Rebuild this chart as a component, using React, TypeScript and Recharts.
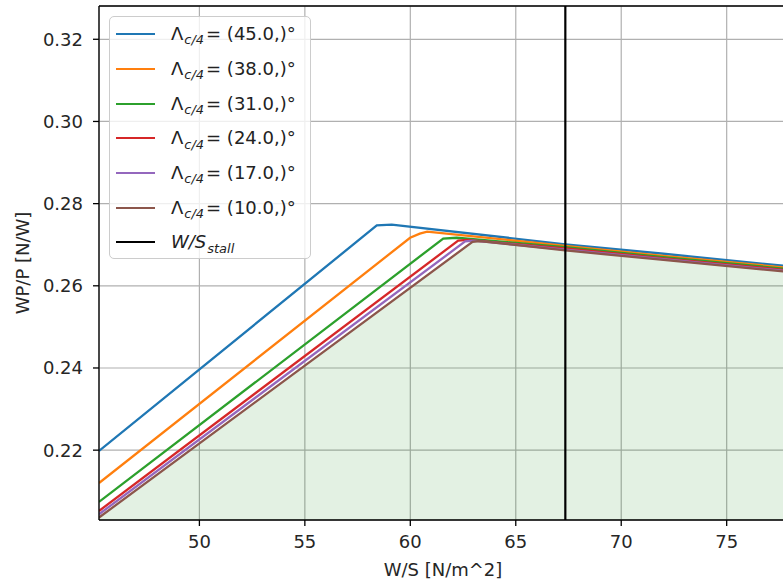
import React from 'react';
import {
  ComposedChart,
  Line,
  Area,
  XAxis,
  YAxis,
  CartesianGrid,
  ReferenceLine,
  Legend,
  Label,
} from 'recharts';

// ---- data ----
const sweepLabels = ['45.0', '38.0', '31.0', '24.0', '17.0', '10.0'];

const ws45 = [45.24, 58.41, 59.12, 67.35, 72.0, 77.86];
const wp45 = [0.2198, 0.2747, 0.2749, 0.2701, 0.2678, 0.2648];

const ws38 = [45.24, 59.99, 60.45, 60.8, 67.35, 72.0, 77.86];
const wp38 = [0.212, 0.2717, 0.2727, 0.2732, 0.2697, 0.2673, 0.2644];

const ws31 = [45.24, 61.56, 62.2, 67.35, 72.0, 77.86];
const wp31 = [0.2074, 0.2715, 0.2717, 0.2694, 0.267, 0.2641];

const ws24 = [45.24, 62.27, 62.7, 67.35, 72.0, 77.86];
const wp24 = [0.2052, 0.271, 0.2712, 0.2691, 0.2667, 0.2638];

const ws17 = [45.24, 62.6, 63.0, 67.35, 72.0, 77.86];
const wp17 = [0.2044, 0.2708, 0.271, 0.2688, 0.2665, 0.2636];

const ws10 = [45.24, 62.95, 63.3, 67.35, 72.0, 77.86];
const wp10 = [0.2036, 0.2707, 0.2709, 0.2686, 0.2663, 0.2634];

const wsStall = 67.35;

const wsTicks = [50, 55, 60, 65, 70, 75];
const wpTicks = [0.22, 0.24, 0.26, 0.28, 0.3, 0.32];

const X_DOMAIN: [number, number] = [45.24, 77.86];
const Y_DOMAIN: [number, number] = [0.203, 0.3281];

// ---- styles ----
const COLORS = ['#1f77b4', '#ff7f0e', '#2ca02c', '#d62728', '#9467bd', '#8c564b'];
const FONT = '"DejaVu Sans", sans-serif';

const toPoints = (xs: number[], ys: number[]) => xs.map((x, i) => ({ ws: x, wp: ys[i] }));

const series = [
  toPoints(ws45, wp45),
  toPoints(ws38, wp38),
  toPoints(ws31, wp31),
  toPoints(ws24, wp24),
  toPoints(ws17, wp17),
  toPoints(ws10, wp10),
];

const LegendBox = () => {
  const rowH = 34.7;
  const row = (key: string, color: string, label: React.ReactNode) => (
    <div key={key} style={{ display: 'flex', alignItems: 'center', height: rowH, paddingLeft: 6 }}>
      <svg width={39} height={6} style={{ display: 'block' }}>
        <line x1={0} y1={3} x2={39} y2={3} stroke={color} strokeWidth={2.2} />
      </svg>
      <span style={{ marginLeft: 16, whiteSpace: 'nowrap', lineHeight: 1 }}>{label}</span>
    </div>
  );
  return (
    <div
      style={{
        width: 202,
        height: 243,
        boxSizing: 'border-box',
        border: '1.3px solid #cccccc',
        borderRadius: 5,
        background: 'rgba(255,255,255,0.8)',
        fontFamily: FONT,
        fontSize: 18,
        color: '#222',
      }}
    >
      {sweepLabels.map((s, i) =>
        row(
          s,
          COLORS[i],
          <>
            Λ
            <span
              style={{
                fontSize: '0.72em',
                position: 'relative',
                top: '0.32em',
                fontStyle: 'italic',
                marginLeft: 1,
                marginRight: 2,
              }}
            >
              c/4
            </span>
            = ({s},)°
          </>
        )
      )}
      {row(
        'stall',
        '#000',
        <span style={{ fontStyle: 'italic' }}>
          W/S
          <span style={{ fontSize: '0.72em', position: 'relative', top: '0.32em', marginLeft: 1 }}>stall</span>
        </span>
      )}
    </div>
  );
};

export default function App() {
  return (
    <div
      style={{
        position: 'fixed',
        left: 0,
        top: 0,
        width: 783,
        height: 585,
        overflow: 'hidden',
        background: '#fff',
      }}
    >
      <ComposedChart width={800} height={585} margin={{ top: 6, right: 13, bottom: 0, left: 0 }}>
        <CartesianGrid stroke="#b0b0b0" strokeWidth={1.2} />
        <Area
          data={series[5]}
          dataKey="wp"
          type="linear"
          baseValue={Y_DOMAIN[0]}
          stroke="none"
          fill="#008000"
          fillOpacity={0.11}
          isAnimationActive={false}
          legendType="none"
        />
        {series.map((d, i) => (
          <Line
            key={sweepLabels[i]}
            data={d}
            dataKey="wp"
            type="linear"
            stroke={COLORS[i]}
            strokeWidth={2.3}
            dot={false}
            activeDot={false}
            isAnimationActive={false}
          />
        ))}
        <XAxis
          dataKey="ws"
          type="number"
          domain={X_DOMAIN}
          allowDataOverflow
          ticks={wsTicks}
          height={65}
          tickSize={6}
          tickMargin={9}
          stroke="#000"
          axisLine={{ stroke: '#000', strokeWidth: 1.3 }}
          tickLine={{ stroke: '#000', strokeWidth: 1.3 }}
          tick={{ fill: '#262626', fontSize: 18, fontFamily: FONT }}
        >
          <Label
            content={(props: any) => {
              const vb = props.viewBox || { x: 99, y: 520, width: 688 };
              return (
                <text
                  x={vb.x + vb.width / 2}
                  y={vb.y + 56}
                  textAnchor="middle"
                  fill="#262626"
                  fontSize={18}
                  fontFamily={FONT}
                >
                  W/S [N/m^2]
                </text>
              );
            }}
          />
        </XAxis>
        <YAxis
          dataKey="wp"
          type="number"
          domain={Y_DOMAIN}
          allowDataOverflow
          ticks={wpTicks}
          width={99}
          tickSize={6}
          tickMargin={10}
          tickFormatter={(v: number) => v.toFixed(2)}
          axisLine={{ stroke: '#000', strokeWidth: 1.3 }}
          tickLine={{ stroke: '#000', strokeWidth: 1.3 }}
          tick={{ fill: '#262626', fontSize: 18, fontFamily: FONT }}
        >
          <Label
            content={(props: any) => {
              const vb = props.viewBox || { x: 0, y: 6, height: 514 };
              const cx = vb.x + 28.5;
              const cy = vb.y + vb.height / 2;
              return (
                <text
                  x={cx}
                  y={cy}
                  transform={`rotate(-90, ${cx}, ${cy})`}
                  textAnchor="middle"
                  fill="#262626"
                  fontSize={18}
                  fontFamily={FONT}
                >
                  WP/P [N/W]
                </text>
              );
            }}
          />
        </YAxis>
        <ReferenceLine y={Y_DOMAIN[1]} stroke="#000" strokeWidth={1.3} ifOverflow="visible" />
        <ReferenceLine x={X_DOMAIN[1]} stroke="#000" strokeWidth={1.3} ifOverflow="visible" />
        <ReferenceLine x={wsStall} stroke="#000" strokeWidth={2.2} />
        <Legend
          layout="vertical"
          align="center"
          verticalAlign="middle"
          wrapperStyle={{ left: 109, top: 16, width: 202 }}
          content={() => <LegendBox />}
        />
      </ComposedChart>
    </div>
  );
}
